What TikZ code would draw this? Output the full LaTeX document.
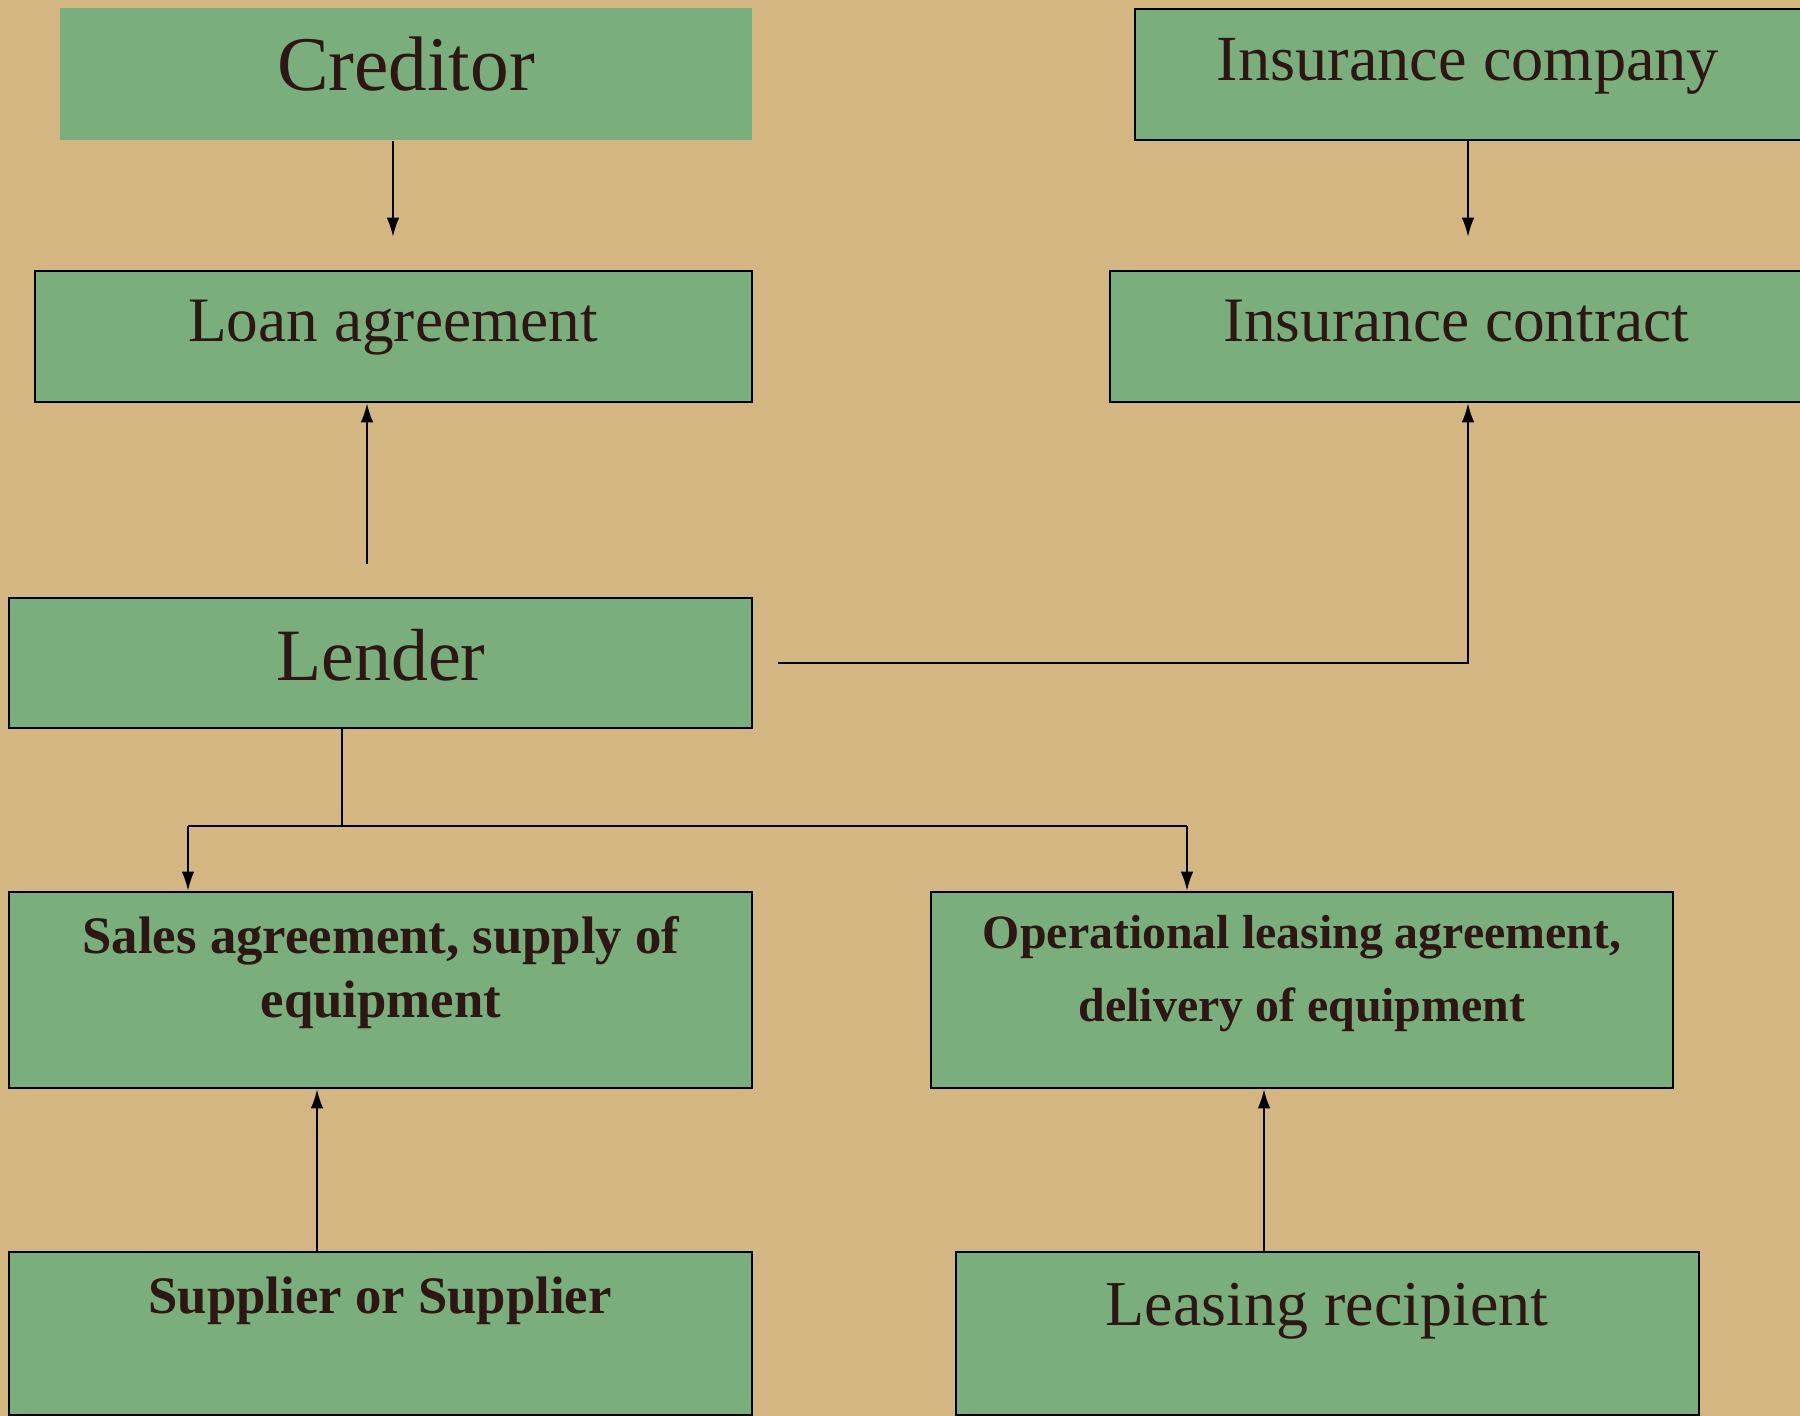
\documentclass[tikz,border=0pt]{standalone}
\usepackage{fontspec}
\setmainfont{Liberation Serif}
\usetikzlibrary{arrows.meta,fit}
\definecolor{bgtan}{HTML}{D4B683}
\definecolor{boxgreen}{HTML}{7AAF7D}
\definecolor{inkbrown}{HTML}{2D1613}

\begin{document}
\begin{tikzpicture}[x=0.01cm,y=-0.01cm,
    box/.style={draw=black, line width=0.6pt, fill=boxgreen, inner sep=0pt},
    txt/.style={text=inkbrown, inner sep=0pt, anchor=base, align=center},
    arr/.style={-{Latex[length=5.5pt,width=3.6pt]}, line width=0.65pt}]
\fill[bgtan] (0,0) rectangle (1800,1416);
\useasboundingbox (0,0) rectangle (1800,1416);

\node[box, draw=none, fit={(60,8) (752,140)}] (creditor) {};
\node[box, fit={(1135,9) (1802,140)}] (inscomp) {};
\node[box, fit={(35,271) (752,402)}] (loan) {};
\node[box, fit={(1110,271) (1802,402)}] (inscon) {};
\node[box, fit={(9,598) (752,728)}] (lender) {};
\node[box, fit={(9,892) (752,1088)}] (sales) {};
\node[box, fit={(931,892) (1673,1088)}] (oplease) {};
\node[box, fit={(9,1252) (752,1415)}] (supplier) {};
\node[box, fit={(956,1252) (1699,1415)}] (recipient) {};

\node[txt, font=\fontsize{22}{26}\selectfont] (creditorT) at (406,91) {Creditor};
\node[txt, font=\fontsize{18.3}{22}\selectfont] (inscompT) at (1468,81) {Insurance company};
\node[txt, font=\fontsize{18}{22}\selectfont] (loanT) at (393,342) {Loan agreement};
\node[txt, font=\fontsize{18}{22}\selectfont] (insconT) at (1456,342) {Insurance contract};
\node[txt, font=\fontsize{21}{25}\selectfont] (lenderT) at (381,680) {Lender};
\node[txt, font=\fontsize{15}{18.2}\selectfont\bfseries] (salesT) at (381,1017)
    {Sales agreement, supply of\\equipment};
\node[txt, font=\fontsize{13.6}{20.5}\selectfont\bfseries] (opleaseT) at (1302,1021)
    {Operational leasing agreement,\\delivery of equipment};
\node[txt, font=\fontsize{15}{18}\selectfont\bfseries] (supplierT) at (380,1313) {Supplier or Supplier};
\node[txt, font=\fontsize{18.2}{22}\selectfont] (recipientT) at (1327,1325) {Leasing recipient};

\coordinate (credTip) at (393,237);
\coordinate (insTip) at (1468,237);
\coordinate (lendUp) at (367,564);
\coordinate (lendRight) at (778,663);
\coordinate (split) at (342,826);
\coordinate (brL) at (188,826);
\coordinate (brR) at (1187,826);
\coordinate (supUp) at (317,1252);
\coordinate (recUp) at (1264,1252);

\draw[arr] (credTip |- creditor.south) -- (credTip);
\draw[arr] (insTip |- inscomp.south) -- (insTip);
\draw[arr] (lendUp) -- (lendUp |- loan.south);
\draw[arr] (lendRight) -| (insTip |- inscon.south);
\draw[line width=0.65pt] (split |- lender.south) -- (split);
\draw[line width=0.65pt] (brL) -- (brR);
\draw[arr] (brL) -- (brL |- sales.north);
\draw[arr] (brR) -- (brR |- oplease.north);
\draw[arr] (supUp) -- (supUp |- sales.south);
\draw[arr] (recUp) -- (recUp |- oplease.south);
\end{tikzpicture}
\end{document}
